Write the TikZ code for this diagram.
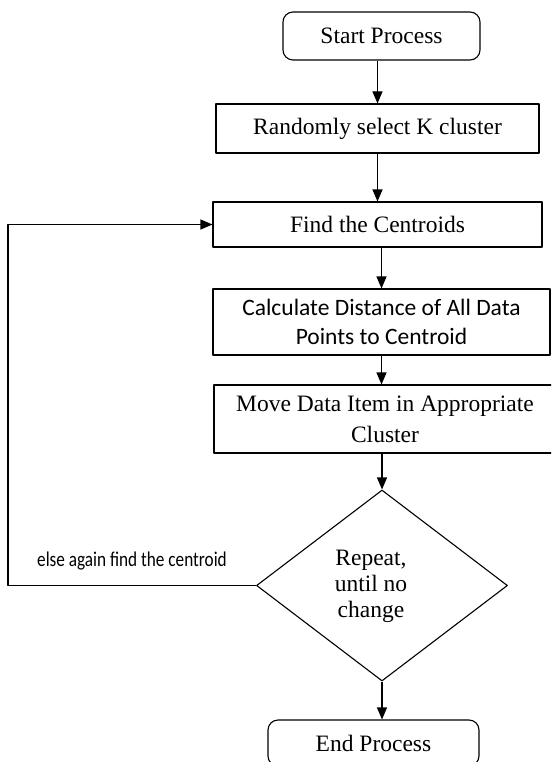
\documentclass[tikz,border=0pt]{standalone}
\usepackage{fontspec}
\setmainfont{Liberation Serif}
\newfontfamily\calibrifont{Carlito}
\newfontfamily\narrowfont[FakeStretch=0.82]{Carlito}
\usetikzlibrary{arrows.meta,shapes.geometric}
\begin{document}
\begin{tikzpicture}[x=1pt, y=-1pt, line join=round, line width=1.1pt, >={Triangle[length=12pt,width=10pt]}, font=\fontsize{23.5}{31}\selectfont,
		process/.style={draw, rectangle, inner sep=0pt, align=center},
		terminal/.style={process, rounded corners=10pt}]
		\useasboundingbox (0,0) rectangle (551,762);
		\clip (0,0) rectangle (551,762);
		\node[terminal, minimum width=197pt, minimum height=48pt] (start) at (381.5,36) {Start Process};
		\node[process, minimum width=323pt, minimum height=49pt] (select) at (377.5,128.5) {Randomly select K cluster};
		\node[process, minimum width=329pt, minimum height=45pt] (find) at (377.5,224.5) {Find the Centroids};
		\node[process, minimum width=337pt, minimum height=66pt, font=\calibrifont\fontsize{23.5}{29}\selectfont] (calc) at (381.5,322) {Calculate Distance of All Data\\Points to Centroid};
		\node[process, minimum width=342pt, minimum height=68pt] (move) at (385,419) {Move Data Item in Appropriate\\Cluster};
		\node[draw, diamond, minimum width=251pt, minimum height=191pt, inner sep=0pt] (check) at (382,585.5) {};
		\node[align=center, font=\fontsize{23.5}{26}\selectfont] (checktext) at (371,586) {Repeat,\\until no\\change};
		\node[terminal, minimum width=211pt, minimum height=46pt] (stop) at (373.5,743) {End Process};
		\node[anchor=base, font=\narrowfont\fontsize{21}{25}\selectfont] (loopnote) at (132,566) {else again find the centroid};
		% connectors
		\coordinate (loopx) at (8,0);
		\draw[->] (start.south -| select.north) -- (select.north);
		\draw[->] (select) -- (find);
		\draw[->] (find.south -| calc.north) -- (calc.north);
		\draw[->] (calc.south) -- (calc.south |- move.north);
		\draw[->] (move.south -| check.north) -- (check.north);
		\draw[->] (check.south) -- (check.south |- stop.north);
		\draw[->] (check.west) -- (check.west -| loopx) |- (find.west);
	\end{tikzpicture}
\end{document}
